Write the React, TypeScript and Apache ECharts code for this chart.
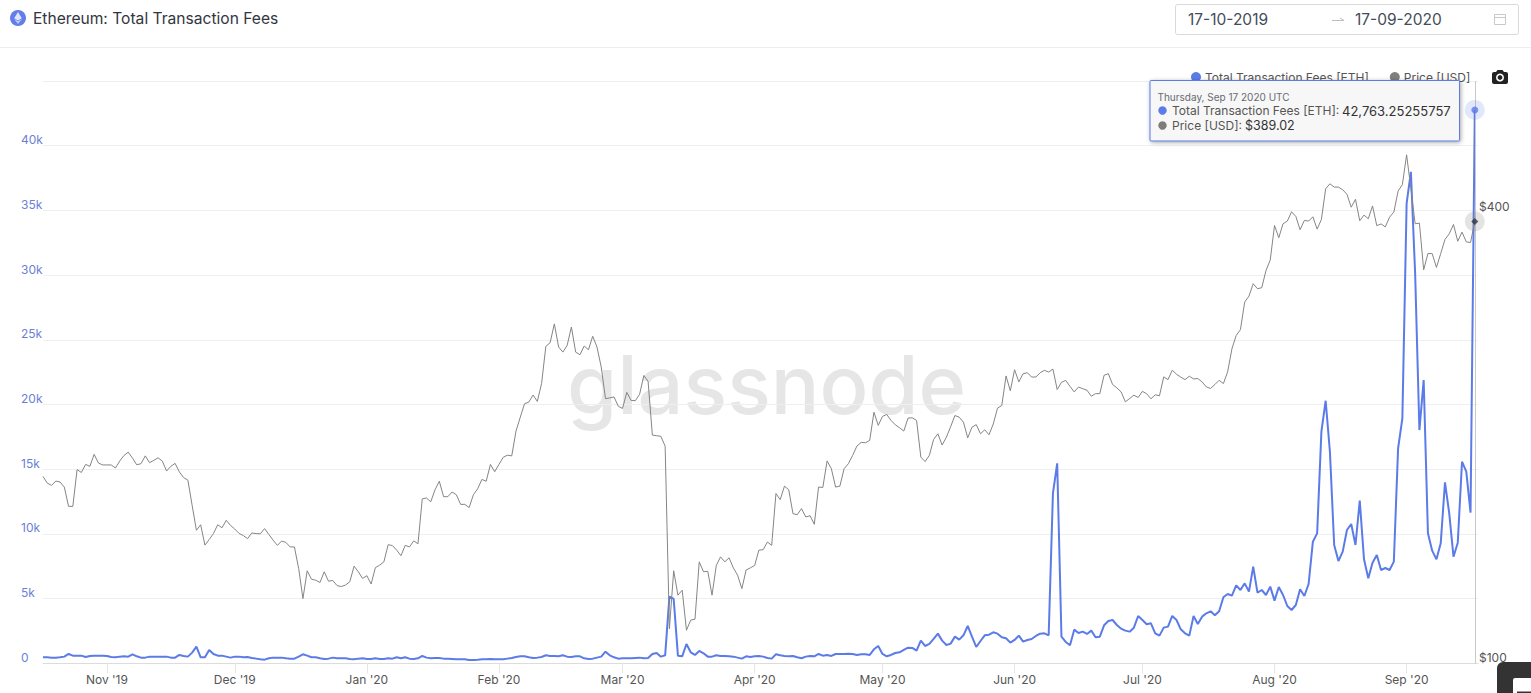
import React, { useEffect, useRef } from "react";
import * as echarts from "echarts";

const startDate = "2019-10-17";
const monthTicks = ["2019-11-01","2019-12-01","2020-01-01","2020-02-01","2020-03-01","2020-04-01","2020-05-01","2020-06-01","2020-07-01","2020-08-01","2020-09-01"];
const monthNames = ["Jan","Feb","Mar","Apr","May","Jun","Jul","Aug","Sep","Oct","Nov","Dec"];
const priceTicks = [100, 400];

const feesEth = [
464,464,438,438,464,515,721,592,592,592,
489,567,592,592,592,567,489,464,515,541,
515,695,541,438,438,515,515,515,515,515,
438,438,644,567,515,824,1288,464,464,1030,
721,592,592,515,438,515,515,464,489,412,
361,309,283,386,438,438,438,386,361,361,
515,695,592,464,464,386,335,361,438,386,
386,386,335,309,361,386,335,335,386,335,
335,386,361,464,386,464,361,335,386,567,
438,386,412,412,361,361,335,309,309,309,
258,258,283,309,309,335,309,309,309,361,
412,489,541,541,464,412,438,489,618,567,
567,541,618,515,489,541,541,386,335,361,
438,515,901,618,464,361,386,386,386,412,
438,386,412,721,798,515,618,5150,4970,592,
541,1494,850,644,953,773,515,515,618,567,
567,541,515,438,361,541,489,541,567,515,
412,361,695,618,567,541,567,464,386,515,
567,541,721,592,644,567,721,721,721,747,
721,644,695,695,644,1082,1339,721,541,644,
798,850,1030,1210,1185,979,1751,1339,1494,1880,
2292,1751,1416,1519,2060,1828,2163,2884,2060,1262,
1725,2163,2215,2395,2292,2009,1931,1597,1803,2137,
1674,1803,1880,2112,2292,2318,2163,13133,15450,2060,
1648,1391,2601,2343,2446,2266,2524,2009,2060,2936,
3270,3348,2961,2678,2524,2446,2755,3657,3348,3013,
3090,2318,2137,2755,2833,3657,3348,2627,2318,2137,
3657,3039,3605,3863,4017,3708,4017,5099,5356,5227,
6026,5665,6180,5536,7468,5459,5665,5279,5923,4841,
5897,5279,4429,4120,4506,5717,5202,6129,9399,10043,
17896,20291,16351,9141,7905,8626,10300,10764,9141,12566,
8034,6566,7777,8369,7210,7365,7210,7854,16609,18926,
35535,37981,30128,18025,21888,10043,8704,8034,9270,13982,
11588,8240,9322,15579,14806,11639,42763.25255757,
];

const priceUsd = [
177.6,174.0,172.8,175.1,174.6,171.9,162.0,162.0,181.4,179.8,
184.3,183.2,190.1,185.1,184.0,184.0,184.0,182.3,186.2,189.4,
191.4,187.9,184.1,184.7,189.2,185.3,186.6,188.1,186.2,180.6,
183.2,184.9,180.1,177.0,175.6,162.5,150.5,153.1,143.8,146.3,
149.0,153.1,151.7,155.2,152.8,151.1,149.1,148.1,146.7,149.3,
149.0,148.9,151.3,148.6,146.0,143.7,145.6,145.0,143.0,143.0,
133.8,122.0,132.9,129.5,129.1,128.2,132.5,128.7,129.0,127.0,
126.6,127.2,128.5,134.8,132.5,129.8,130.9,127.6,134.2,135.2,
136.6,144.0,143.6,141.6,139.2,143.7,143.0,145.7,144.4,165.8,
166.2,164.3,170.5,175.0,166.9,166.9,169.3,167.9,163.0,163.0,
161.4,167.9,171.0,176.0,175.0,184.3,180.2,184.3,188.4,189.6,
189.2,204.2,213.1,222.1,223.2,228.1,223.7,236.3,264.9,267.9,
283.9,264.4,260.3,265.7,281.2,260.3,258.2,265.2,262.2,273.3,
264.4,248.6,225.6,226.1,226.8,220.4,218.9,230.0,224.4,224.2,
228.6,242.3,237.9,201.7,201.3,200.9,194.9,111.2,132.9,123.3,
125.2,110.7,114.2,114.5,136.6,132.5,132.7,123.3,135.1,138.7,
136.6,138.3,134.1,131.1,125.8,133.2,134.1,135.1,141.6,141.8,
145.2,143.7,168.5,165.4,172.4,170.5,158.4,157.9,160.9,156.8,
157.4,153.3,171.9,171.7,186.3,181.9,171.9,172.4,181.9,184.7,
189.5,195.0,197.2,197.0,198.4,216.4,207.8,213.6,214.9,211.0,
208.2,206.3,204.2,212.5,212.7,211.0,188.5,185.9,189.5,199.0,
202.5,195.6,200.4,207.0,214.2,213.1,209.9,200.0,206.6,208.3,
202.5,205.0,201.9,208.7,219.1,220.9,241.9,231.1,246.6,237.5,
243.6,244.3,241.1,241.1,244.3,246.1,244.8,247.1,232.0,237.2,
238.6,234.3,230.3,233.8,232.6,231.5,227.3,229.1,229.1,242.4,
243.6,235.6,233.2,230.3,223.4,225.7,228.0,226.4,230.7,229.0,
225.5,228.3,227.6,241.2,239.2,246.2,243.2,241.0,239.2,241.7,
239.7,240.0,237.5,233.9,232.8,235.6,238.7,236.3,245.0,262.9,
273.9,278.9,303.6,309.2,321.2,316.3,317.3,334.5,345.6,384.2,
370.0,386.2,389.4,400.7,395.0,379.2,390.2,389.4,394.6,379.9,
391.4,430.0,436.7,432.3,432.3,428.8,422.8,406.4,416.4,389.8,
396.6,392.2,408.0,384.0,386.0,382.5,394.2,400.3,427.1,435.5,
477.4,430.0,386.2,387.0,335.2,352.4,352.4,337.7,352.4,368.0,
374.5,385.4,366.0,376.4,365.3,364.6,389.02,
];

const DAY = 86400000;
const t0 = Date.parse(startDate + "T00:00:00Z");
const dateAt = (i: number) => t0 + i * DAY;
const lastIdx = feesEth.length - 1;
const lastDate = dateAt(lastIdx);
const feeSeriesData = feesEth.map((v, i) => [dateAt(i), v]);
const priceSeriesData = priceUsd.map((v, i) => [dateAt(i), v]);
const monthTickValues = monthTicks.map((d) => Date.parse(d + "T00:00:00Z"));

const BLUE = "#5b7be8";
const GREY = "#858585";
const FONT = "Inter";

const monthLabel = (v: number) => {
  const d = new Date(v);
  return monthNames[d.getUTCMonth()] + " '" + String(d.getUTCFullYear()).slice(2);
};

const txt = (x: number, y: number, text: string, fontSize: number, fill: string, extra: any = {}) => ({
  type: "text", x, y, z: 100,
  style: { text, fontSize, fill, fontFamily: FONT, verticalAlign: "middle", align: "left", ...extra },
});

export default function App() {
  const ref = useRef<HTMLDivElement>(null);
  useEffect(() => {
    document.body.style.margin = "0";
    const chart = echarts.init(ref.current!, undefined, { renderer: "svg" });
    chart.setOption({
      animation: false,
      backgroundColor: "#ffffff",
      textStyle: { fontFamily: FONT },
      legend: {
        left: 1191, top: 71, itemWidth: 10, itemHeight: 10, itemGap: 21, icon: "circle", selectedMode: false,
        padding: 0,
        data: [
          { name: "Total Transaction Fees [ETH]", itemStyle: { color: BLUE } },
          { name: "Price [USD]", itemStyle: { color: "#808080" } },
        ],
        textStyle: { fontSize: 12, color: "#555", fontFamily: FONT, padding: [0, 0, 0, -1] },
      },
      grid: { left: 43, top: 81, width: 1435, height: 582.3, containLabel: false },
      xAxis: {
        type: "value",
        min: t0,
        max: lastDate + 0.75 * DAY,
        axisLine: { show: true, lineStyle: { color: "#dcdcdc", width: 1 } },
        axisTick: { show: true, length: 10, customValues: monthTickValues, lineStyle: { color: "#e6e6e6" } },
        axisLabel: {
          customValues: monthTickValues,
          formatter: (v: number) => monthLabel(v),
          color: "#555", fontSize: 12, fontFamily: FONT, margin: 10, hideOverlap: false,
        },
        splitLine: { show: false },
      },
      yAxis: [
        {
          type: "value", min: 0, max: 45000, interval: 5000, position: "left",
          axisLine: { show: false }, axisTick: { show: false },
          splitLine: { show: true, lineStyle: { color: "#efefef", width: 1 } },
          axisLabel: {
            color: "#6c7fd6", fontSize: 12, fontFamily: FONT, margin: 22, align: "left", verticalAlign: "bottom",
            showMaxLabel: false,
            formatter: (v: number) => (v === 0 ? "0" : v / 1000 + "k"),
          },
        },
        {
          type: "log", min: 100, max: 599, logBase: 10, position: "right",
          axisLine: { show: false }, axisTick: { show: false }, splitLine: { show: false },
          axisLabel: {
            customValues: priceTicks,
            color: "#555", fontSize: 12, fontFamily: FONT, margin: 1, align: "left", verticalAlign: "bottom",
            formatter: (v: number) => "$" + Math.round(v),
          },
        },
      ],
      series: [
        {
          name: "Total Transaction Fees [ETH]", type: "line", yAxisIndex: 0, z: 3,
          data: feeSeriesData, showSymbol: false, symbol: "none", smooth: false,
          lineStyle: { color: BLUE, width: 2 }, itemStyle: { color: BLUE },
        },
        {
          name: "Price [USD]", type: "line", yAxisIndex: 1, z: 4,
          data: priceSeriesData, showSymbol: false, symbol: "none", smooth: false,
          lineStyle: { color: GREY, width: 1 }, itemStyle: { color: GREY },
          markLine: {
            silent: true, symbol: "none", label: { show: false },
            lineStyle: { color: "#c9c9c9", width: 1, type: "solid" },
            data: [{ xAxis: lastDate }],
          },
        },
        { name: "feeHalo", type: "scatter", yAxisIndex: 0, z: 5, symbolSize: 20, silent: true,
          data: [feeSeriesData[lastIdx]], itemStyle: { color: "rgba(91,123,232,0.22)" } },
        { name: "feeDot", type: "scatter", yAxisIndex: 0, z: 6, symbolSize: 7, silent: true,
          data: [feeSeriesData[lastIdx]], itemStyle: { color: BLUE } },
        { name: "priceHalo", type: "scatter", yAxisIndex: 1, z: 5, symbolSize: 20, silent: true,
          data: [priceSeriesData[lastIdx]], itemStyle: { color: "rgba(120,120,120,0.25)" } },
        { name: "priceDot", type: "scatter", yAxisIndex: 1, z: 6, symbol: "diamond", symbolSize: 7, silent: true,
          data: [priceSeriesData[lastIdx]], itemStyle: { color: "#2e3440" } },
      ],
      graphic: [
        // watermark
        { type: "text", x: 567, y: 385, z: 0, style: { text: "glassnode", fontSize: 81, fontFamily: FONT, fontWeight: 500, fill: "#e6e6e6", verticalAlign: "middle", align: "left" } },
        // header
        { type: "line", z: 1, shape: { x1: 0, y1: 47.5, x2: 1531, y2: 47.5 }, style: { stroke: "#eeeeee", lineWidth: 1 } },
        { type: "circle", z: 100, shape: { cx: 18, cy: 18, r: 8 }, style: { fill: "#627eea" } },
        { type: "polygon", z: 101, shape: { points: [[18, 12], [14.2, 18.2], [18, 20.4], [21.8, 18.2]] }, style: { fill: "#dfe5fb" } },
        { type: "polygon", z: 101, shape: { points: [[14.2, 19], [18, 24], [21.8, 19], [18, 21.2]] }, style: { fill: "#c4cff7" } },
        txt(33, 18.5, "Ethereum: Total Transaction Fees", 15.6, "#33363f"),
        // date picker
        { type: "rect", z: 100, shape: { x: 1175.5, y: 4.5, width: 343, height: 30, r: 2 }, style: { fill: "#fff", stroke: "#d9d9d9", lineWidth: 1 } },
        txt(1188, 19.5, "17-10-2019", 15.5, "#444c5a"),
        txt(1355, 19.5, "17-09-2020", 15.5, "#444c5a"),
        { type: "polyline", z: 101, shape: { points: [[1332, 20.5], [1344, 20.5], [1340, 18]] }, style: { stroke: "#bdbdbd", lineWidth: 1, fill: "none" } },
        { type: "rect", z: 101, shape: { x: 1494.5, y: 14.5, width: 11, height: 10 }, style: { fill: "none", stroke: "#c9c9c9", lineWidth: 1 } },
        { type: "line", z: 101, shape: { x1: 1494.5, y1: 17.5, x2: 1505.5, y2: 17.5 }, style: { stroke: "#c9c9c9", lineWidth: 1 } },
        // camera
        { type: "rect", z: 100, shape: { x: 1492, y: 72, width: 16, height: 12, r: 2 }, style: { fill: "#222" } },
        { type: "polygon", z: 100, shape: { points: [[1496, 72], [1497.5, 70], [1502.5, 70], [1504, 72]] }, style: { fill: "#222" } },
        { type: "circle", z: 101, shape: { cx: 1500, cy: 77.5, r: 3.2 }, style: { fill: "#222", stroke: "#fff", lineWidth: 1.6 } },
        // tooltip
        { type: "rect", z: 110, shape: { x: 1150, y: 80.5, width: 309.5, height: 60.5, r: 1 },
          style: { fill: "#f7f7f7", stroke: BLUE, lineWidth: 1, shadowBlur: 4, shadowOffsetX: 1, shadowOffsetY: 1, shadowColor: "rgba(0,0,0,0.35)" } },
        { ...txt(1157.5, 96.5, "Thursday, Sep 17 2020 UTC", 10, "#666a72"), z: 111 },
        { type: "circle", z: 111, shape: { cx: 1162.5, cy: 110.5, r: 4.2 }, style: { fill: BLUE } },
        { ...txt(1172, 110.5, "Total Transaction Fees [ETH]:", 12, "#555"), z: 111 },
        { ...txt(1342, 110.5, "42,763.25255757", 13, "#333"), z: 111 },
        { type: "circle", z: 111, shape: { cx: 1162.5, cy: 125.5, r: 4.2 }, style: { fill: "#7d7d78" } },
        { ...txt(1172, 125.5, "Price [USD]:", 12, "#555"), z: 111 },
        { ...txt(1245, 125.5, "$389.02", 12.5, "#333"), z: 111 },
        // chat widget corner
        { type: "rect", z: 120, shape: { x: 1497, y: 662, width: 40, height: 40, r: 6 }, style: { fill: "#333333" } },
        { type: "rect", z: 121, shape: { x: 1513, y: 678, width: 24, height: 20, r: 2 }, style: { fill: "#ffffff" } },
        { type: "rect", z: 122, shape: { x: 1517, y: 691.5, width: 20, height: 3 }, style: { fill: "#333333" } },
      ],
    });
    return () => chart.dispose();
  }, []);
  return <div ref={ref} style={{ width: 1531, height: 693 }} />;
}
